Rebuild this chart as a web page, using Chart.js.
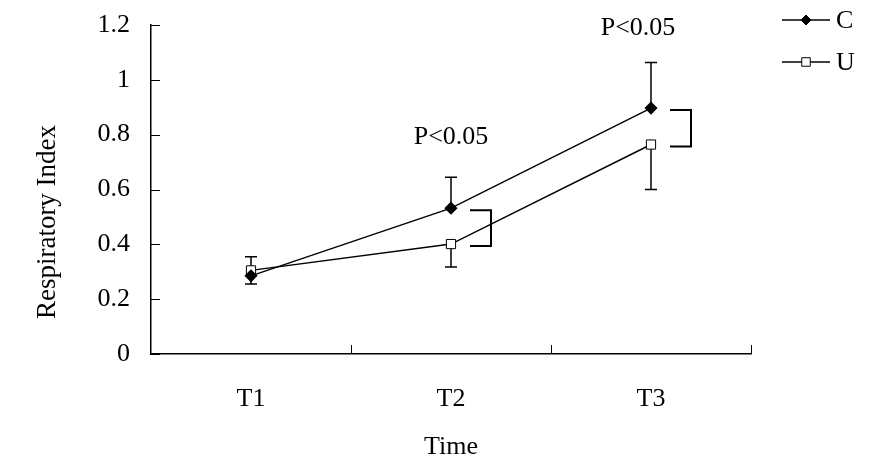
<!DOCTYPE html>
<html>
<head>
<meta charset="utf-8">
<script src="https://cdn.jsdelivr.net/npm/chart.js@4.4.0/dist/chart.umd.min.js"></script>
<style>
  html, body { margin: 0; padding: 0; background: #fff; }
  #wrap { width: 871px; height: 470px; position: relative; }
</style>
</head>
<body>
<div id="wrap"><canvas id="chart"></canvas></div>
<script>
// ----- Data -----
const categories = ['T1', 'T2', 'T3'];
const seriesC = [0.285, 0.532, 0.897];
const seriesU = [0.305, 0.401, 0.764];
// one-sided error bars: value where each whisker ends
const errEndC = [0.255, 0.645, 1.063];
const errEndU = [0.355, 0.317, 0.600];
// significance brackets and labels
const sigMarked = [false, true, true];
const sigLabels = ['', 'P<0.05', 'P<0.05'];
const sigLabelY = [null, 0.79, 1.19];
const yTicks = [0, 0.2, 0.4, 0.6, 0.8, 1, 1.2];
const yTitle = 'Respiratory Index';

const FONT = "'Liberation Serif', 'Times New Roman', serif";
const FS = 26;

function qs(id) { return document.getElementById(id); }

// ----- Custom drawing: ticks, error bars, brackets, labels, legend -----
const extrasPlugin = {
  id: 'extras',
  beforeDatasetsDraw(chart) {
    const { ctx, scales: { x, y } } = chart;
    ctx.save();
    ctx.strokeStyle = '#000';
    ctx.lineWidth = 1.5;
    // error bars
    [[seriesC, errEndC], [seriesU, errEndU]].forEach(([vals, ends]) => {
      vals.forEach((v, i) => {
        const px = x.getPixelForValue(i);
        const y0 = y.getPixelForValue(v);
        const y1 = y.getPixelForValue(ends[i]);
        ctx.beginPath();
        ctx.moveTo(px, y0);
        ctx.lineTo(px, y1);
        ctx.moveTo(px - 6, y1);
        ctx.lineTo(px + 6, y1);
        ctx.stroke();
      });
    });
    ctx.restore();
  },
  afterDraw(chart) {
    const { ctx, scales: { x, y }, chartArea } = chart;
    ctx.save();
    ctx.strokeStyle = '#000';
    ctx.fillStyle = '#000';
    ctx.lineWidth = 1;
    // y ticks pointing inward
    yTicks.forEach(t => {
      const py = Math.round(y.getPixelForValue(t)) + 0.5;
      ctx.beginPath();
      ctx.moveTo(chartArea.left, py);
      ctx.lineTo(chartArea.left + 9, py);
      ctx.stroke();
    });
    // x ticks between categories, pointing up
    for (let i = 0; i < categories.length; i++) {
      const px = Math.round(x.getPixelForValue(i + 0.5)) + 0.5;
      ctx.beginPath();
      ctx.moveTo(px, chartArea.bottom);
      ctx.lineTo(px, chartArea.bottom - 9);
      ctx.stroke();
    }
    // brackets
    ctx.lineWidth = 2;
    sigMarked.forEach((m, i) => {
      if (!m) return;
      const px = x.getPixelForValue(i);
      const yc = y.getPixelForValue(seriesC[i]) + 2;
      const yu = y.getPixelForValue(seriesU[i]) + 2;
      ctx.beginPath();
      ctx.moveTo(px + 19, yc);
      ctx.lineTo(px + 40, yc);
      ctx.lineTo(px + 40, yu);
      ctx.lineTo(px + 19, yu);
      ctx.stroke();
    });
    // P labels
    ctx.font = FS + 'px ' + FONT;
    ctx.textAlign = 'center';
    ctx.textBaseline = 'middle';
    sigLabels.forEach((s, i) => {
      if (!s) return;
      const off = i === 2 ? -13 : 0;
      ctx.fillText(s, x.getPixelForValue(i) + off, y.getPixelForValue(sigLabelY[i]));
    });
    // y title, sits a bit below the axis middle
    ctx.save();
    ctx.translate(48, 222);
    ctx.rotate(-Math.PI / 2);
    ctx.font = '27px ' + FONT;
    ctx.fillText(yTitle, 0, 0);
    ctx.restore();
    // legend
    const items = [
      { label: 'C', style: 'rectRot', fill: '#000', r: 5, yy: 20 },
      { label: 'U', style: 'rect', fill: '#fff', r: 6, yy: 62 },
    ];
    ctx.textAlign = 'left';
    items.forEach(it => {
      ctx.lineWidth = 1.5;
      ctx.beginPath();
      ctx.moveTo(782, it.yy);
      ctx.lineTo(830, it.yy);
      ctx.stroke();
      ctx.fillStyle = it.fill;
      ctx.lineWidth = 1;
      Chart.helpers.drawPoint(ctx, { pointStyle: it.style, radius: it.r, borderWidth: 1, rotation: 0 }, 806, it.yy);
      ctx.fillStyle = '#000';
      ctx.fillText(it.label, 836, it.yy + 1);
    });
    ctx.restore();
  }
};

function initChart() {
  const ctx = qs('chart').getContext('2d');
  new Chart(ctx, {
    type: 'line',
    data: {
      labels: categories,
      datasets: [
        {
          label: 'C',
          data: seriesC,
          borderColor: '#000',
          borderWidth: 1.5,
          pointStyle: 'rectRot',
          pointRadius: 5.5,
          pointBackgroundColor: '#000',
          pointBorderColor: '#000',
          tension: 0,
        },
        {
          label: 'U',
          data: seriesU,
          borderColor: '#000',
          borderWidth: 1.5,
          pointStyle: 'rect',
          pointRadius: 6.5,
          pointBorderWidth: 1,
          pointBackgroundColor: '#fff',
          pointBorderColor: '#000',
          tension: 0,
        },
      ],
    },
    options: {
      responsive: true,
      maintainAspectRatio: false,
      animation: false,
      layout: { padding: { left: 0, right: 120, top: 25, bottom: 0 } },
      scales: {
        x: {
          type: 'category',
          offset: true,
          afterFit: (axis) => { axis.height = 116; axis.paddingLeft = 0; axis.paddingRight = 0; },
          grid: { display: false, drawTicks: false },
          border: { display: true, color: '#000', width: 1.5 },
          ticks: { color: '#000', font: { family: FONT, size: FS }, padding: 30 },
          title: { display: true, text: 'Time', color: '#000', font: { family: FONT, size: FS }, padding: { top: 0, bottom: 7 } },
        },
        y: {
          min: 0,
          max: 1.2,
          afterFit: (axis) => { axis.width = 151; axis.paddingTop = 0; axis.paddingBottom = 0; },
          afterBuildTicks: (axis) => { axis.ticks = yTicks.map(v => ({ value: v })); },
          grid: { display: false, drawTicks: false },
          border: { display: true, color: '#000', width: 1.5 },
          ticks: { color: '#000', font: { family: FONT, size: FS }, padding: 21, callback: (v) => String(v) },
          title: { display: false },
        },
      },
      plugins: {
        legend: { display: false },
        tooltip: { enabled: false },
      },
    },
    plugins: [extrasPlugin],
  });
}

window.addEventListener('DOMContentLoaded', initChart);
</script>
</body>
</html>
